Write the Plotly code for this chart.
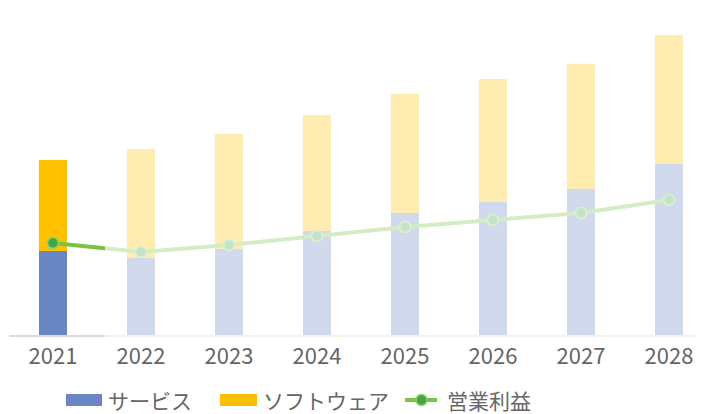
import plotly.graph_objects as go

years = [2021, 2022, 2023, 2024, 2025, 2026, 2027, 2028]
year_labels = ["2021", "2022", "2023", "2024", "2025", "2026", "2027", "2028"]
service = [84, 77, 86, 104, 122, 133, 146, 171]
software = [91, 109, 115, 116, 119, 123, 125, 129]
profit = [92, 83, 90, 99, 108, 115, 122, 135]
legend_names = ["サービス", "ソフトウェア", "営業利益"]

OFF = 8  # page offset of the figure (body margin)
W, H = 704 - OFF, 414 - OFF
BASE = 335  # page y of the baseline
L, R, T, B = 9 - OFF, 0, 20 - OFF, (414 - OFF) - (BASE - OFF)
PW, PH = W - L - R, H - T - B

def px(x):  # page pixel -> paper
    return (x - OFF - L) / PW

def py(y):
    return (H - B - (y - OFF)) / PH

BLUE = "#6A86C2"
GOLD = "#FFC000"
GREEN = "#7CC142"
DKGREEN = "#43A547"
FONT = "Noto Sans CJK JP, Noto Sans, sans-serif"
TXT = "#666666"

fig = go.Figure()
fig.add_trace(go.Bar(x=years, y=service, name=legend_names[0], marker=dict(color=BLUE, line_width=0),
                     width=0.31, showlegend=False))
fig.add_trace(go.Bar(x=years, y=software, name=legend_names[1], marker=dict(color=GOLD, line_width=0),
                     width=0.31, showlegend=False))
fig.add_trace(go.Scatter(x=years, y=profit, name=legend_names[2], mode="lines+markers",
                         line=dict(color=GREEN, width=4),
                         marker=dict(size=11, color=DKGREEN, line=dict(color="#8BD36A", width=1.5)),
                         showlegend=False))

shapes = []
# forecast fade overlay
shapes.append(dict(type="rect", xref="paper", yref="paper", x0=px(105), x1=1.02, y0=-0.012, y1=1.05,
                   fillcolor="rgba(255,255,255,0.69)", line_width=0, layer="above"))

# custom legend
ly = 400
shapes.append(dict(type="rect", xref="paper", yref="paper", x0=px(66), x1=px(102), y0=py(ly - 6), y1=py(ly + 6),
                   fillcolor=BLUE, line_width=0))
shapes.append(dict(type="rect", xref="paper", yref="paper", x0=px(220), x1=px(257), y0=py(ly - 6), y1=py(ly + 6),
                   fillcolor=GOLD, line_width=0))
shapes.append(dict(type="line", xref="paper", yref="paper", x0=px(405), x1=px(437), y0=py(ly), y1=py(ly),
                   line=dict(color=GREEN, width=4)))
shapes.append(dict(type="circle", xref="paper", yref="paper", x0=px(416), x1=px(427), y0=py(ly - 5.5), y1=py(ly + 5.5),
                   fillcolor=DKGREEN, line=dict(color="#8BD36A", width=1.5)))

annotations = []
for name, x in zip(legend_names, [106, 261, 445]):
    annotations.append(dict(text=name, xref="paper", yref="paper", x=px(x), y=py(ly), xanchor="left", yanchor="middle",
                            showarrow=False, font=dict(family=FONT, size=21, color=TXT)))

fig.update_layout(
    width=W, height=H,
    margin=dict(l=L, r=R, t=T, b=B, pad=0),
    barmode="stack",
    plot_bgcolor="white", paper_bgcolor="white",
    shapes=shapes, annotations=annotations,
    font=dict(family=FONT, color=TXT),
    xaxis=dict(range=[2020.5, 2020.5 + PW / 88], tickvals=years, ticktext=year_labels,
               showgrid=False, showline=True, linecolor="#D9D9D9", linewidth=1.5, ticks="",
               tickfont=dict(size=22, color=TXT, family=FONT), ticklabelstandoff=1, zeroline=False),
    yaxis=dict(range=[0, PH], visible=False, showgrid=False, zeroline=False),
)

fig.write_html("out.html")
